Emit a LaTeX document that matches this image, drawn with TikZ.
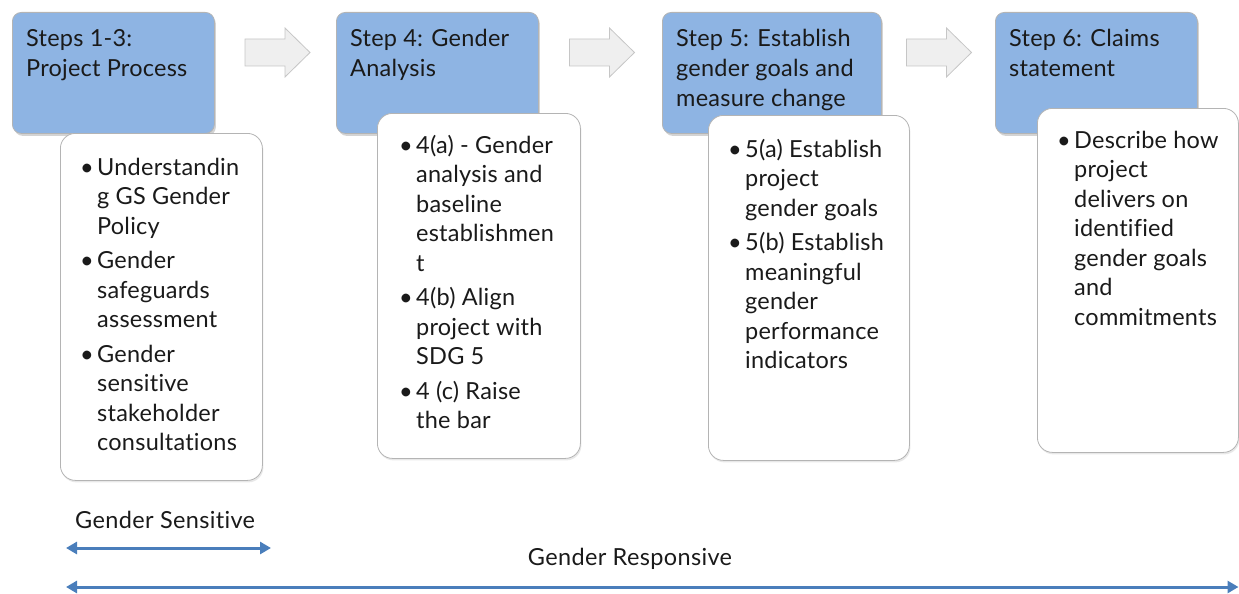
\documentclass[tikz,border=0pt]{standalone}
\usepackage{fontspec}
\setmainfont{Lato}[Ligatures=NoCommon, LetterSpace=1.0]
\newfontfamily\scalefont{Lato}[Ligatures=NoCommon, LetterSpace=1.5]
\usetikzlibrary{arrows.meta,shadows}
\definecolor{stepblue}{HTML}{8EB4E3}
\definecolor{boxedge}{HTML}{B4B4B4}
\definecolor{txt}{HTML}{1A1A1A}
\definecolor{arrfill}{HTML}{EFEFEF}
\definecolor{arredge}{HTML}{C6C6C6}
\definecolor{scaleblue}{HTML}{4A7EBB}
\newcommand{\bl}{\makebox[17pt][l]{\textbullet}}
\tikzset{
  bluebox/.style={draw=boxedge, line width=0.8pt, fill=stepblue, rounded corners=9pt,
    drop shadow={opacity=0.35, shadow xshift=1.5pt, shadow yshift=-2.5pt}},
  whitebox/.style={draw=boxedge, line width=0.8pt, fill=white, rounded corners=15pt,
    drop shadow={opacity=0.18, shadow xshift=1pt, shadow yshift=-2pt}},
  headtext/.style={anchor=base west, inner sep=0pt, text=txt, font=\fontsize{23.5}{29.5}\selectfont},
  listtext/.style={anchor=base west, inner sep=0pt, text=txt, font=\fontsize{23.5}{29.5}\selectfont},
  scaletext/.style={inner sep=0pt, text=txt, font=\scalefont\fontsize{23.5}{28}\selectfont},
  scalearrow/.style={draw=scaleblue, line width=3pt, {Triangle[length=11pt,width=12pt]}-{Triangle[length=11pt,width=12pt]}},
  grayarr/.style={draw=arredge, line width=0.8pt, fill=arrfill},
  blockarrow/.pic={\filldraw[grayarr] (-32.5,-13.5) -- (7.5,-13.5) -- (7.5,-24.5) -- (32.5,0) -- (7.5,24.5) -- (7.5,13.5) -- (-32.5,13.5) -- cycle;}
}
\begin{document}
\begin{tikzpicture}[x=1pt,y=-1pt]
\useasboundingbox (0,0) rectangle (1239,594);
% blue step boxes
\node[bluebox, anchor=north west, minimum width=202pt, minimum height=121pt] (b1) at (12,12) {};
\node[bluebox, anchor=north west, minimum width=202pt, minimum height=121pt] (b2) at (336,12) {};
\node[bluebox, anchor=north west, minimum width=219pt, minimum height=121pt] (b3) at (662,12) {};
\node[bluebox, anchor=north west, minimum width=202pt, minimum height=121pt] (b4) at (995,12) {};
% headings
\node[headtext] (h1) at (26,47) {\begin{tabular}[t]{@{}l@{}}Steps 1-3:\\ Project Process\end{tabular}};
\node[headtext] (h2) at (350,47) {\begin{tabular}[t]{@{}l@{}}Step 4: Gender\\ Analysis\end{tabular}};
\node[headtext] (h3) at (676,47) {\begin{tabular}[t]{@{}l@{}}Step 5: Establish\\ gender goals and\\ measure change\end{tabular}};
\node[headtext] (h4) at (1009,47) {\begin{tabular}[t]{@{}l@{}}Step 6: Claims\\ statement\end{tabular}};
% block arrows
\pic (a1) at (277.5,52.5) {blockarrow};
\pic (a2) at (602,52.5) {blockarrow};
\pic (a3) at (939,52.5) {blockarrow};
% white detail boxes
\node[whitebox, anchor=north west, minimum width=202pt, minimum height=347pt] (w1) at (60,133) {};
\node[whitebox, anchor=north west, minimum width=203pt, minimum height=345pt] (w2) at (377,113) {};
\node[whitebox, anchor=north west, minimum width=201pt, minimum height=345pt] (w3) at (708,115) {};
\node[whitebox, anchor=north west, minimum width=201pt, minimum height=344pt] (w4) at (1037,108) {};
% lists
\node[listtext] (l1) at (80,175) {\begin{tabular}[t]{@{}l@{}l@{}}
\bl & Understandin\\ & g GS Gender\\ & Policy\\[5pt]
\bl & Gender\\ & safeguards\\ & assessment\\[5pt]
\bl & Gender\\ & sensitive\\ & stakeholder\\ & consultations
\end{tabular}};
\node[listtext] (l2) at (399,153) {\begin{tabular}[t]{@{}l@{}l@{}}
\bl & 4(a) - Gender\\ & analysis and\\ & baseline\\ & establishmen\\ & t\\[5pt]
\bl & 4(b) Align\\ & project with\\ & SDG 5\\[5pt]
\bl & 4 (c) Raise\\ & the bar
\end{tabular}};
\node[listtext] (l3) at (728,157) {\begin{tabular}[t]{@{}l@{}l@{}}
\bl & 5(a) Establish\\ & project\\ & gender goals\\[5pt]
\bl & 5(b) Establish\\ & meaningful\\ & gender\\ & performance\\ & indicators
\end{tabular}};
\node[listtext] (l4) at (1057,148) {\begin{tabular}[t]{@{}l@{}l@{}}
\bl & Describe how\\ & project\\ & delivers on\\ & identified\\ & gender goals\\ & and\\ & commitments
\end{tabular}};
% scale at the bottom
\node[scaletext, anchor=base west] (gs) at (75,528) {Gender Sensitive};
\node[scaletext, anchor=base] (gr) at (630,565) {Gender Responsive};
\coordinate (gsL) at (66,548);
\coordinate (gsR) at (271,548);
\coordinate (grL) at (66,587);
\coordinate (grR) at (1238.5,587);
\draw[scalearrow] (gsL) -- (gsR);
\draw[scalearrow] (grL) -- (grR);
\end{tikzpicture}
\end{document}
